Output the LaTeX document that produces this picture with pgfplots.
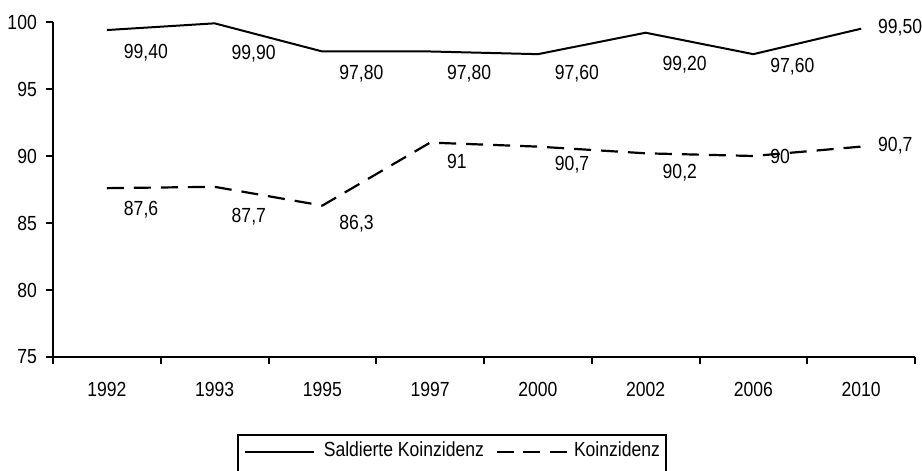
\documentclass[border=0pt]{standalone}
\usepackage{fontspec}
\setmainfont{Liberation Sans}[FakeStretch=0.86]
\usepackage{pgfplots}
\usepackage{pgfplotstable}
\pgfplotsset{compat=1.18}

\pgfplotstableread{
x y sh
0 99.4 -23
1 99.9 -30
2 97.8 -22
3 97.8 -22
4 97.6 -20
5 99.2 -32
6 97.6 -13
7 99.5 1
}\saldiert

\pgfplotstableread{
x y sh
0 87.6 -22
1 87.7 -30
2 86.3 -18
3 91.0 -19
4 90.7 -18
5 90.2 -19
6 90.0 0
7 90.7 1
}\koinz

\begin{document}
\begin{tikzpicture}[font=\fontsize{20.5}{24}\selectfont]
\begin{axis}[
  scale only axis, width=862bp, height=335bp,
  xmin=-0.5, xmax=7.5, ymin=75, ymax=100,
  clip=false,
  axis x line*=bottom, axis y line*=left,
  axis line style={line width=2bp, black},
  /pgf/number format/assume math mode=true,
  tick align=outside, major tick length=7bp,
  tick style={line width=2bp, black},
  xtick={-0.5,0.5,...,7.5}, xticklabels={,,,,,,,,,},
  extra x ticks={0,1,2,3,4,5,6,7},
  extra x tick labels={1992,1993,1995,1997,2000,2002,2006,2010},
  extra x tick style={xtick style={draw=none}},
  xticklabel style={inner sep=0pt, anchor=north, yshift=-18bp},
  ytick={75,80,85,90,95,100},
  yticklabel style={inner sep=0pt, anchor=east, xshift=-9bp},
  legend columns=2,
  legend cell align=left,
  legend style={at={(0.2135,-0.2299)}, anchor=north west, draw=black, line width=2bp,
    inner xsep=6bp, inner ysep=6bp,
    /tikz/every odd column/.append style={column sep=0bp},
    /tikz/every even column/.append style={column sep=12bp},
    nodes={inner sep=0pt, text height=15bp, text depth=25bp, anchor=base west}},
]
\addplot[black, line width=2bp, no markers,
  nodes near coords={\pgfmathprintnumber[use comma,fixed,fixed zerofill,precision=2]{\pgfplotspointmeta}},
  point meta=explicit,
  visualization depends on={\thisrow{sh} \as \sh},
  nodes near coords style={anchor=west, inner sep=0pt, xshift=16bp, yshift=\sh bp, text=black},
  legend image code/.code={\draw[black, line width=1.5bp] (0bp,4bp) -- (69bp,4bp); \path (78bp,0bp);}
] table[x=x, y=y, meta=y] {\saldiert};
\addlegendentry{Saldierte Koinzidenz}
\addplot[black, line width=2.2bp, dash pattern=on 17bp off 10bp, no markers,
  nodes near coords={\pgfmathprintnumber[use comma,fixed,precision=1]{\pgfplotspointmeta}},
  point meta=explicit,
  visualization depends on={\thisrow{sh} \as \sh},
  nodes near coords style={anchor=west, inner sep=0pt, xshift=16bp, yshift=\sh bp, text=black, solid},
  legend image code/.code={\draw[black, line width=2bp, dash pattern=on 17bp off 9.5bp] (0bp,4bp) -- (70bp,4bp); \path (76bp,0bp);}
] table[x=x, y=y, meta=y] {\koinz};
\addlegendentry{Koinzidenz}
\end{axis}
\pgfresetboundingbox
\path[use as bounding box] (-53bp,-114bp) rectangle (869bp,357bp);
\end{tikzpicture}
\end{document}
